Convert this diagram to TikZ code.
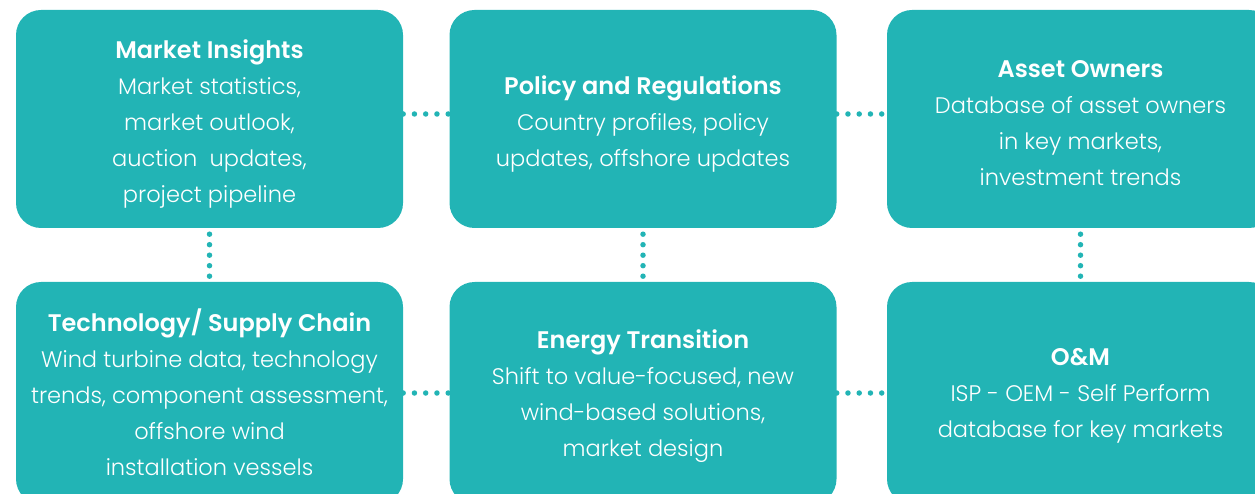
\documentclass[tikz,border=0pt]{standalone}
\usepackage{fontspec}
\setmainfont{Poppins}[UprightFont=* Light, BoldFont=* SemiBold]
\definecolor{tealbox}{HTML}{22B4B5}
\newcommand{\boxtitle}[1]{{\fontsize{24}{36}\selectfont\textbf{#1}}}

\begin{document}
\begin{tikzpicture}[x=1pt, y=-1pt,
    box/.style={rectangle, rounded corners=25pt, fill=tealbox,
      minimum width=387pt, minimum height=218pt},
    lowbox/.style={box, minimum height=222pt},
    boxtext/.style={text=white, align=center,
      font=\fontsize{22.5}{36}\selectfont},
    dotline/.style={draw=tealbox, line width=5.5pt, line cap=round,
      dash pattern=on 0pt off 11.25pt}]
  \useasboundingbox (0,0) rectangle (1255,494);

  % Top row
  \node[box, label={[boxtext, yshift=-4.5pt]center:{\boxtitle{Market Insights}\\Market statistics,\\market outlook,\\auction\ \ updates,\\project pipeline}}] (mkt) at (209.5,119) {};
  \node[box, label={[boxtext, yshift=-4.5pt]center:{\boxtitle{Policy and Regulations}\\Country profiles, policy\\updates, offshore updates}}] (pol) at (643,119) {};
  \node[box, label={[boxtext, yshift=-4.5pt]center:{\boxtitle{Asset Owners}\\Database of asset owners\\in key markets,\\investment trends}}] (own) at (1080.5,119) {};

  % Bottom row
  \node[lowbox, label={[boxtext, yshift=1pt]center:{\boxtitle{Technology/ Supply Chain}\\Wind turbine data, technology\\trends, component assessment,\\offshore wind\\installation vessels}}] (tech) at (209.5,393) {};
  \node[lowbox, label={[boxtext, yshift=-3pt]center:{\boxtitle{Energy Transition}\\Shift to value-focused, new\\wind-based solutions,\\market design}}] (ener) at (643,393) {};
  \node[lowbox, label={[boxtext, yshift=-3pt]center:{\boxtitle{O\&M}\\ISP - OEM - Self Perform\\database for key markets}}] (om) at (1080.5,393) {};

  % Dotted links
  \draw[dotline] ([yshift=5pt]mkt.east) -- ([yshift=5pt]pol.west);
  \draw[dotline] ([yshift=5pt]pol.east) -- ([yshift=5pt]own.west);
  \draw[dotline] (tech.east) -- (ener.west);
  \draw[dotline] (ener.east) -- (om.west);
  \draw[dotline, dash pattern=on 0pt off 10.5pt] ([yshift=-6pt]mkt.south) -- (tech.north);
  \draw[dotline, dash pattern=on 0pt off 10.5pt] ([yshift=-6pt]pol.south) -- (ener.north);
  \draw[dotline, dash pattern=on 0pt off 10.5pt] ([yshift=-6pt]own.south) -- (om.north);
\end{tikzpicture}
\end{document}
